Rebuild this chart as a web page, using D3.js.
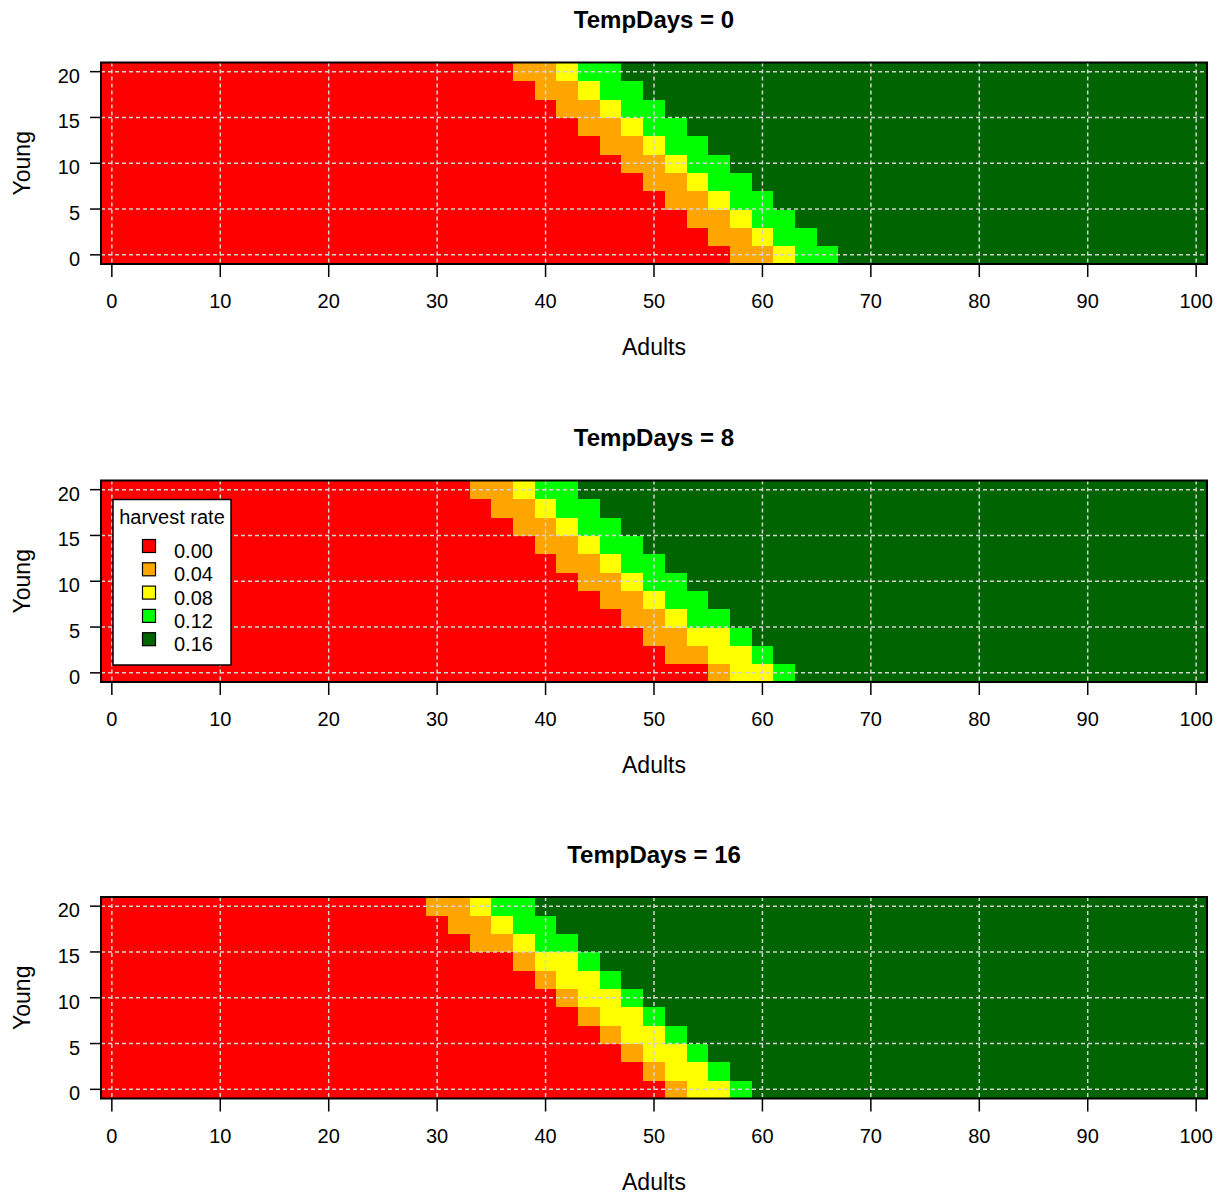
<!DOCTYPE html>
<html>
<head>
<meta charset="utf-8">
<script src="https://cdn.jsdelivr.net/npm/d3@7"></script>
<style>
  body { margin: 0; background: #fff; }
  svg text { font-family: "Liberation Sans", Arial, sans-serif; fill: #000; }
</style>
</head>
<body>
<svg id="chart" width="1220" height="1197"></svg>
<script>
// grid categories
const adults = [0,2,4,6,8,10,12,14,16,18,20,22,24,26,28,30,32,34,36,38,40,42,44,46,48,50,
  52,54,56,58,60,62,64,66,68,70,72,74,76,78,80,82,84,86,88,90,92,94,96,98,100];
const young = [0,2,4,6,8,10,12,14,16,18,20];

const tempDays = [0, 8, 16];
const rates = ['0.00', '0.04', '0.08', '0.12', '0.16'];
const rateColors = ['#ff0000', '#ffa500', '#ffff00', '#00ff00', '#006400'];

// first Adults value where each harvest rate starts, one entry per Young row (0..20)
const from04 = [
  [58,56,54,52,50,48,46,44,42,40,38],
  [56,52,50,48,46,44,42,40,38,36,34],
  [52,50,48,46,44,42,40,38,34,32,30]
];
const from08 = [
  [62,60,58,56,54,52,50,48,46,44,42],
  [58,56,54,52,50,48,46,44,42,40,38],
  [54,52,50,48,46,44,42,40,38,36,34]
];
const from12 = [
  [64,62,60,58,56,54,52,50,48,46,44],
  [62,60,58,54,52,50,48,46,44,42,40],
  [58,56,54,52,50,48,46,44,40,38,36]
];
const from16 = [
  [68,66,64,62,60,58,56,54,52,50,48],
  [64,62,60,58,56,54,52,50,48,46,44],
  [60,58,56,54,52,50,48,46,44,42,40]
];

const xTicks = [0,10,20,30,40,50,60,70,80,90,100];
const yTicks = [0,5,10,15,20];

const svg = d3.select('#chart');
const panelOffsets = [0, 418, 834.5];
const boxLeft = 101, boxRight = 1207, boxTop = 62.5, boxH = 201.5;

const x = d3.scaleLinear().domain([-1, 101]).range([boxLeft, boxRight]);

tempDays.forEach((td, p) => {
  const off = panelOffsets[p];
  const y = d3.scaleLinear().domain([-1, 21]).range([off + boxTop + boxH, off + boxTop]);
  const g = svg.append('g');

  // cells
  const cells = [];
  young.forEach((yv, i) => {
    const th = [from04[p][i], from08[p][i], from12[p][i], from16[p][i]];
    adults.forEach(a => {
      let k = 0;
      th.forEach(t => { if (a >= t) k++; });
      cells.push({a: a, y: yv, k: k});
    });
  });
  g.selectAll('rect.cell')
    .data(cells)
    .join('rect')
      .attr('class', 'cell')
      .attr('shape-rendering', 'crispEdges')
      .attr('x', d => x(d.a - 1))
      .attr('y', d => y(d.y + 1))
      .attr('width', d => x(d.a + 1) - x(d.a - 1) + 0.5)
      .attr('height', d => y(d.y - 1) - y(d.y + 1) + 0.5)
      .attr('fill', d => rateColors[d.k]);

  // grid
  const gridStyle = sel => sel.attr('stroke', '#d3d3d3').attr('stroke-width', 1.5)
    .attr('stroke-dasharray', '4,3');
  g.selectAll('line.vg').data(xTicks).join('line')
    .attr('x1', d => x(d)).attr('x2', d => x(d))
    .attr('y1', y(21)).attr('y2', y(-1))
    .call(gridStyle);
  g.selectAll('line.hg').data(yTicks).join('line')
    .attr('y1', d => y(d)).attr('y2', d => y(d))
    .attr('x1', x(-1)).attr('x2', x(101))
    .call(gridStyle);

  // box
  g.append('rect')
    .attr('x', boxLeft).attr('y', off + boxTop)
    .attr('width', boxRight - boxLeft).attr('height', boxH)
    .attr('fill', 'none').attr('stroke', '#000').attr('stroke-width', 2);

  // x axis
  const bottom = off + boxTop + boxH;
  g.selectAll('line.xt').data(xTicks).join('line')
    .attr('x1', d => x(d)).attr('x2', d => x(d))
    .attr('y1', bottom).attr('y2', bottom + 13)
    .attr('stroke', '#000').attr('stroke-width', 1.5);
  g.selectAll('text.xl').data(xTicks).join('text')
    .attr('x', d => x(d)).attr('y', bottom + 44)
    .attr('text-anchor', 'middle').attr('font-size', 20)
    .text(d => d);

  // y axis
  g.selectAll('line.yt').data(yTicks).join('line')
    .attr('x1', boxLeft - 11).attr('x2', boxLeft)
    .attr('y1', d => y(d)).attr('y2', d => y(d))
    .attr('stroke', '#000').attr('stroke-width', 1.5);
  g.selectAll('text.yl').data(yTicks).join('text')
    .attr('x', 80).attr('y', d => y(d) + 11)
    .attr('text-anchor', 'end').attr('font-size', 20)
    .text(d => d);

  // titles
  g.append('text')
    .attr('x', (boxLeft + boxRight) / 2).attr('y', off + 28)
    .attr('text-anchor', 'middle').attr('font-size', 24).attr('font-weight', 'bold')
    .text('TempDays = ' + td);
  g.append('text')
    .attr('x', (boxLeft + boxRight) / 2).attr('y', off + 355)
    .attr('text-anchor', 'middle').attr('font-size', 23)
    .text('Adults');
  g.append('text')
    .attr('transform', `translate(30,${off + boxTop + boxH / 2}) rotate(-90)`)
    .attr('text-anchor', 'middle').attr('font-size', 23)
    .text('Young');

  // legend only in the middle panel
  if (p === 1) {
    const lg = g.append('g');
    lg.append('rect')
      .attr('x', 113).attr('y', 499.5).attr('width', 118).attr('height', 165.5)
      .attr('fill', '#fff').attr('stroke', '#000').attr('stroke-width', 1.5);
    lg.append('text')
      .attr('x', 172).attr('y', 524)
      .attr('text-anchor', 'middle').attr('font-size', 20)
      .text('harvest rate');
    const items = lg.selectAll('g.item').data(rates).join('g')
      .attr('transform', (d, i) => `translate(0,${546 + i * 23.3})`);
    items.append('rect')
      .attr('x', 142.5).attr('y', -6.5).attr('width', 13).attr('height', 13)
      .attr('fill', (d, i) => rateColors[i]).attr('stroke', '#000').attr('stroke-width', 1.2);
    items.append('text')
      .attr('x', 174).attr('y', 12)
      .attr('font-size', 20)
      .text(d => d);
  }
});
</script>
</body>
</html>
